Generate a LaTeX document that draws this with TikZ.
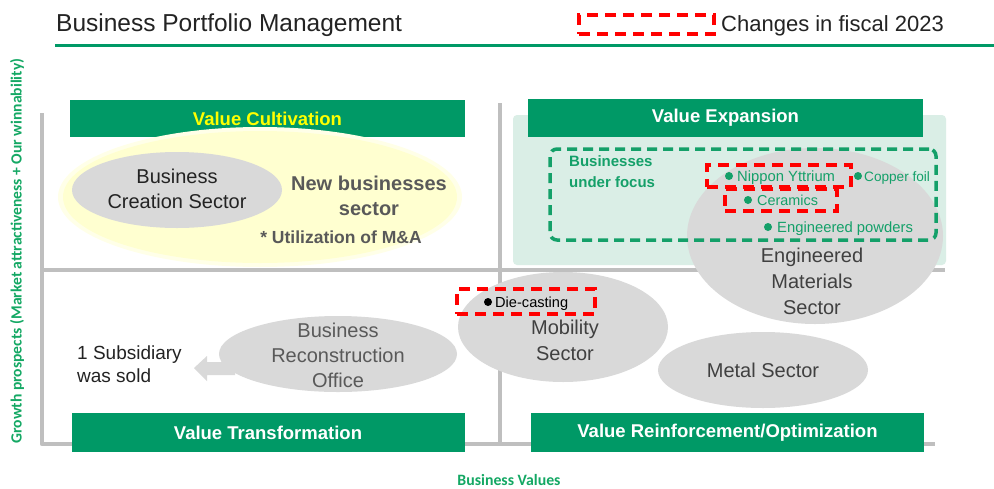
\documentclass[tikz,border=0pt]{standalone}
\usepackage{fontspec}
\setmainfont{Liberation Sans}
\newfontfamily\carlito{Carlito}
\usetikzlibrary{shapes.geometric}
\definecolor{bgreen}{RGB}{0,153,102}
\definecolor{lgreen}{RGB}{218,238,230}
\definecolor{axgray}{RGB}{191,191,191}
\definecolor{ellgray}{RGB}{217,217,217}
\definecolor{txtgray}{RGB}{64,64,64}
\definecolor{midgray}{RGB}{89,89,89}
\definecolor{lyellow}{RGB}{255,255,208}
\definecolor{pyellow}{RGB}{255,255,232}
\definecolor{tgreen}{RGB}{20,160,105}
\definecolor{labgreen}{RGB}{20,168,100}
\definecolor{dkgray}{RGB}{35,35,35}
\definecolor{vyellow}{RGB}{255,255,0}
\begin{document}
\begin{tikzpicture}[x=1pt,y=-1pt,
  axis/.style={axgray, line width=4.5pt},
  vbar/.style={fill=bgreen, text=white, font=\bfseries\fontsize{18.5}{22}\selectfont, inner sep=0pt, minimum height=38pt, minimum width=394pt},
  ell/.style={ellipse, fill=ellgray, inner sep=0pt},
  bigtxt/.style={font=\fontsize{20}{25}\selectfont, align=center, text=txtgray},
  reddash/.style={draw=red, line width=3.5pt, dash pattern=on 11pt off 7pt},
  gdash/.style={draw=tgreen, line width=3.5pt, dash pattern=on 10pt off 6pt, rounded corners=7pt},
  item/.style={font=\fontsize{14.6}{17}\selectfont, text=tgreen, anchor=base west, inner sep=0pt},
  gdot/.style={circle, fill=tgreen, inner sep=0pt, minimum size=8pt},
  lab/.style={font=\carlito\bfseries\fontsize{15.6}{18}\selectfont, text=labgreen, inner sep=0pt}
]
\useasboundingbox[fill=white] (0,0) rectangle (994,488);

% title and legend
\node[anchor=base west, inner sep=0pt, font=\fontsize{24.5}{28}\selectfont, text=dkgray] (title) at (56,31) {Business Portfolio Management};
\coordinate (ruleL) at (55,45);
\coordinate (ruleR) at (994,45);
\draw[bgreen, line width=3pt] (ruleL) -- (ruleR);
\node[reddash, minimum width=135pt, minimum height=19pt, inner sep=0pt] (legbox) at (646.5,24.5) {};
\node[anchor=base west, inner sep=0pt, font=\fontsize{22}{26}\selectfont, text=dkgray] (legtxt) at (721,31) {Changes in fiscal 2023};

% axes
\coordinate (axTL) at (42,113);
\coordinate (axBL) at (42,444);
\coordinate (axBR) at (935,444);
\coordinate (midT) at (500,103);
\coordinate (midB) at (500,444);
\coordinate (midL) at (42,270);
\coordinate (midR) at (945,270);
\draw[axis, line join=round] (axTL) -- (axBL) -- (axBR);
\draw[axis] (midT) -- (midB);
\draw[axis] (midL) -- (midR);

% light green quadrant background
\fill[lgreen, rounded corners=4pt] (513,115) rectangle (946,265);

% header bars
\node[vbar, minimum width=395pt, minimum height=37pt, text=vyellow] (vc) at (267.5,118.5) {Value Cultivation};
\node[vbar, minimum width=395pt] (ve) at (725.5,118) {Value Expansion};
\node[vbar, minimum width=393pt, minimum height=39pt] (vt) at (268,432.5) {Value Transformation};
\node[vbar, minimum width=393pt, minimum height=39pt] (vr) at (727.5,432.5) {Value Reinforcement/Optimization};

% value cultivation
\node[ellipse, fill=pyellow, inner sep=0pt, minimum width=404pt, minimum height=140pt] (yglow) at (260,197) {};
\node[ellipse, fill=lyellow, inner sep=0pt, minimum width=394pt, minimum height=132pt] (yell) at (260,197) {};
\node[ell, minimum width=210pt, minimum height=76pt] (bce) at (177,190) {};
\node[bigtxt, text=dkgray] (bct) at (177,189) {Business\\Creation Sector};
\node[font=\bfseries\fontsize{20}{25}\selectfont, align=center, text=midgray] (nbs) at (369,196) {New businesses\\sector};
\node[font=\bfseries\fontsize{17.5}{20}\selectfont, text=midgray] (mna) at (341,237) {* Utilization of M\&A};

% value expansion
\node[ell, minimum width=256pt, minimum height=176pt] (eme) at (815,236) {};
\node[bigtxt, font=\fontsize{20}{26}\selectfont] (emt) at (812,281) {Engineered\\Materials\\Sector};
\node[gdash, minimum width=386pt, minimum height=91pt, inner sep=0pt] (focus) at (743,194.5) {};
\node[font=\bfseries\fontsize{15}{21}\selectfont, text=tgreen, align=left, anchor=north west, inner sep=0pt] (bufl) at (569,155) {Businesses\\under focus};

\node[gdot] (d1) at (729,176) {};
\node[item, font=\fontsize{14.8}{17}\selectfont] (ny) at (737,181) {Nippon Yttrium};
\node[gdot] (d2) at (858,176) {};
\node[item, font=\fontsize{13.6}{16}\selectfont] (cf) at (864,181) {Copper foil};
\node[gdot] (d3) at (748,200) {};
\node[item, font=\fontsize{14.4}{17}\selectfont] (ce) at (757,205) {Ceramics};
\node[gdot] (d4) at (768,227) {};
\node[item, font=\fontsize{14.8}{17}\selectfont] (ep) at (777,232) {Engineered powders};
\node[reddash, minimum width=144pt, minimum height=22pt, inner sep=0pt] (nybox) at (779,176) {};
\node[reddash, minimum width=112pt, minimum height=22pt, inner sep=0pt] (cebox) at (781,200) {};

% value reinforcement
\node[ell, minimum width=210pt, minimum height=110pt] (mobe) at (563,327) {};
\node[bigtxt, font=\fontsize{20}{26}\selectfont] (mobt) at (565,340) {Mobility\\Sector};
\node[circle, fill=black, inner sep=0pt, minimum size=8pt] (d5) at (488,302) {};
\node[item, text=black] (dc) at (495,307) {Die-casting};
\node[reddash, minimum width=138pt, minimum height=25pt, inner sep=0pt] (dcbox) at (526,301.5) {};
\node[ell, minimum width=210pt, minimum height=76pt] (mete) at (763,370) {};
\node[bigtxt] (mett) at (763,370) {Metal Sector};

% value transformation
\coordinate (arrtip) at (194,368);
\fill[ellgray] (arrtip) -- (207,356) -- (207,362) -- (235,362) -- (235,375) -- (207,375) -- (207,381) -- cycle;
\node[ell, minimum width=238pt, minimum height=76pt] (bre) at (338,354) {};
\node[bigtxt, text=midgray] (brt) at (338,355) {Business\\Reconstruction\\Office};
\node[font=\fontsize{19}{23}\selectfont, align=left, text=dkgray, anchor=west, inner sep=0pt] (sold) at (77,364) {1 Subsidiary\\was sold};

% axis labels
\node[lab, rotate=90] (ylab) at (17,251) {Growth prospects (Market attractiveness + Our winnability)};
\node[lab, font=\carlito\bfseries\fontsize{15.8}{18}\selectfont] (xlab) at (509,480) {Business Values};
\end{tikzpicture}
\end{document}
